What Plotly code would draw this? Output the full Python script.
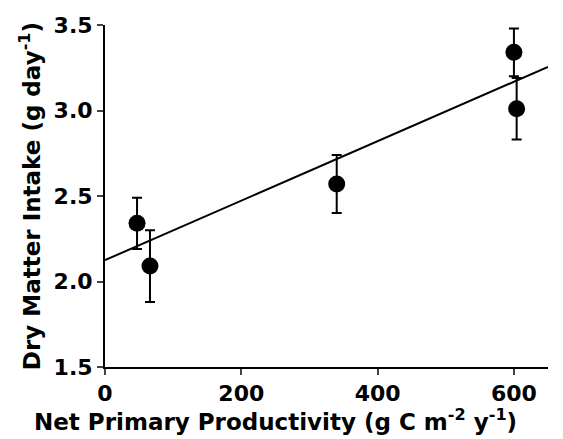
import plotly.graph_objects as go

npp = [47, 66, 340, 600, 604]
intake = [2.34, 2.09, 2.57, 3.34, 3.01]
err = [0.15, 0.21, 0.17, 0.14, 0.18]
fit_x = [0, 650]
fit_y = [2.125, 3.255]
x_ticks = [0, 200, 400, 600]
y_ticks = [1.5, 2.0, 2.5, 3.0, 3.5]
x_title = "Net Primary Productivity (g C m<sup>-2</sup> y<sup>-1</sup>)"
y_title = "Dry Matter Intake (g day<sup>-1</sup>)"

fam = "DejaVu Sans, Liberation Sans, Arial, sans-serif"
tick_fnt = dict(family=fam, size=22, color="black", weight="bold")
title_fnt = dict(family=fam, size=23, color="black", weight="bold")

fig = go.Figure()
fig.add_trace(go.Scatter(x=fit_x, y=fit_y, mode="lines",
                         line=dict(color="black", width=2), showlegend=False, hoverinfo="skip"))
fig.add_trace(go.Scatter(x=npp, y=intake, mode="markers",
                         marker=dict(color="black", size=17),
                         error_y=dict(type="data", array=err, color="black", thickness=2, width=5),
                         showlegend=False))
fig.update_layout(
    width=563, height=439,
    margin=dict(l=97, r=23, t=17, b=80),
    paper_bgcolor="white", plot_bgcolor="white",
    font=tick_fnt,
    xaxis=dict(range=[0, 650], tickvals=x_ticks, ticks="outside", ticklen=6, tickwidth=2,
               showline=True, linecolor="black", linewidth=2, showgrid=False, zeroline=False,
               tickfont=tick_fnt, automargin=False),
    yaxis=dict(range=[1.5, 3.5], tickvals=y_ticks, tickformat=".1f", ticks="outside", ticklen=6, tickwidth=2,
               showline=True, linecolor="black", linewidth=2, showgrid=False, zeroline=False,
               tickfont=tick_fnt, automargin=False),
    annotations=[
        dict(text=x_title, xref="paper", yref="paper", x=0.384, y=-0.155,
             xanchor="center", yanchor="middle", showarrow=False, font=title_fnt),
        dict(text=y_title, xref="paper", yref="paper", x=-0.169, y=0.5, textangle=-90,
             xanchor="center", yanchor="middle", showarrow=False, font=title_fnt),
    ],
)
fig.write_html("out.html")
